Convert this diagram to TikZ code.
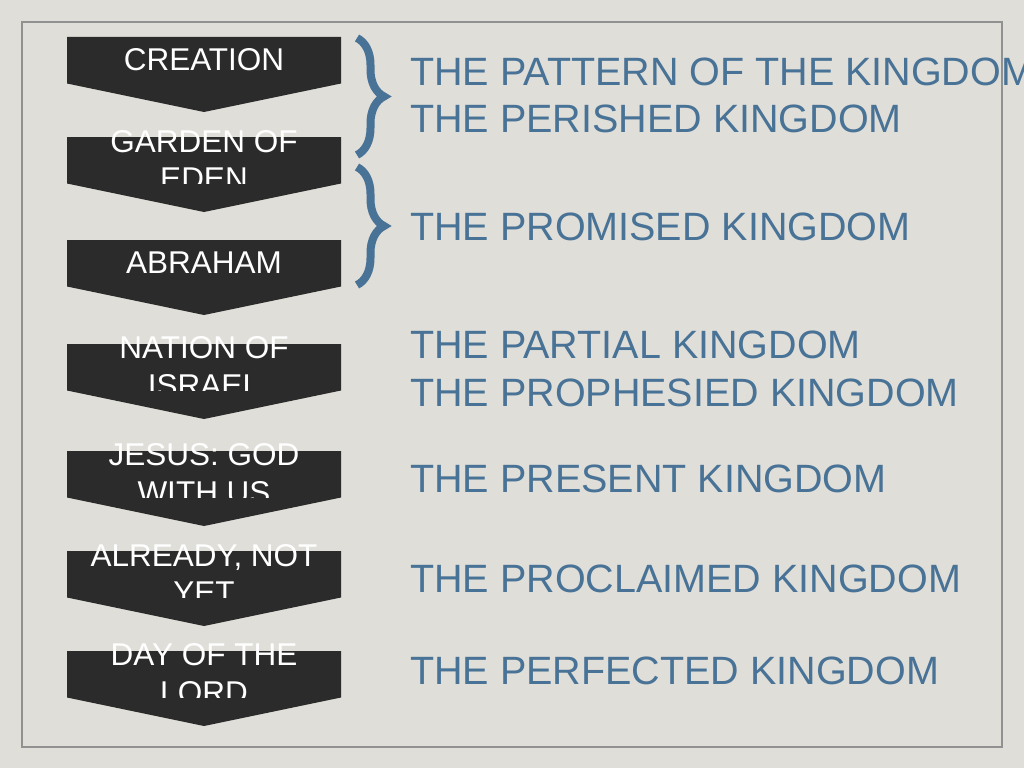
\documentclass[tikz,border=0pt]{standalone}
\usepackage{fontspec}
\setmainfont{Liberation Sans}
\usetikzlibrary{decorations.pathreplacing}

\definecolor{paper}{RGB}{224,222,216}
\definecolor{rim}{RGB}{145,145,145}
\definecolor{slate}{RGB}{43,43,43}
\definecolor{kblue}{RGB}{72,114,150}

\tikzset{
	era/.style={text=white,inner sep=0pt,align=center,font=\fontsize{31.5}{37.8}\selectfont},
	kingdom/.style={text=kblue,inner sep=0pt,anchor=base west,font=\fontsize{39.5}{47}\selectfont},
	bracket/.style={draw=kblue,line width=8pt,decorate,decoration={brace,amplitude=27pt}}
}

% chevron: top edge, node name, label
\newcommand{\chevron}[3]{
	\fill[slate] (67,#1) -- (341,#1) -- (341,#1+46.5) -- (204,#1+75) -- (67,#1+46.5) -- cycle;
	\begin{scope}
		\clip (0,0) rectangle (1024,#1+46.5);
		\draw (204,#1+23) node [era] (#2) {#3};
	\end{scope}
}

\begin{document}
\begin{tikzpicture}[x=1pt,y=-1pt]
			\fill[paper] (0,0) rectangle (1024,768);
			\useasboundingbox (0,0) rectangle (1024,768);
			\draw[rim,line width=2pt] (22,22) rectangle (1002,747);
			\chevron{37}{creation}{CREATION}
			\chevron{137}{eden}{GARDEN OF\\EDEN}
			\chevron{240}{abraham}{ABRAHAM}
			\chevron{344}{israel}{NATION OF\\ISRAEL}
			\chevron{451}{jesus}{JESUS: GOD\\WITH US}
			\chevron{551}{already}{ALREADY, NOT\\YET}
			\chevron{651}{lord}{DAY OF THE\\LORD}
			\draw (410,85) node [kingdom] (pattern) {THE PATTERN OF THE KINGDOM};
			\draw (410,132) node [kingdom] (perished) {THE PERISHED KINGDOM};
			\draw (410,240) node [kingdom] (promised) {THE PROMISED KINGDOM};
			\draw (410,358) node [kingdom] (partial) {THE PARTIAL KINGDOM};
			\draw (410,406) node [kingdom] (prophesied) {THE PROPHESIED KINGDOM};
			\draw (410,492) node [kingdom] (present) {THE PRESENT KINGDOM};
			\draw (410,592) node [kingdom] (proclaimed) {THE PROCLAIMED KINGDOM};
			\draw (410,684) node [kingdom] (perfected) {THE PERFECTED KINGDOM};
			\draw[bracket] (357,38) -- (357,155);
			\draw[bracket] (357,167) -- (357,285);
		\end{tikzpicture}
\end{document}
